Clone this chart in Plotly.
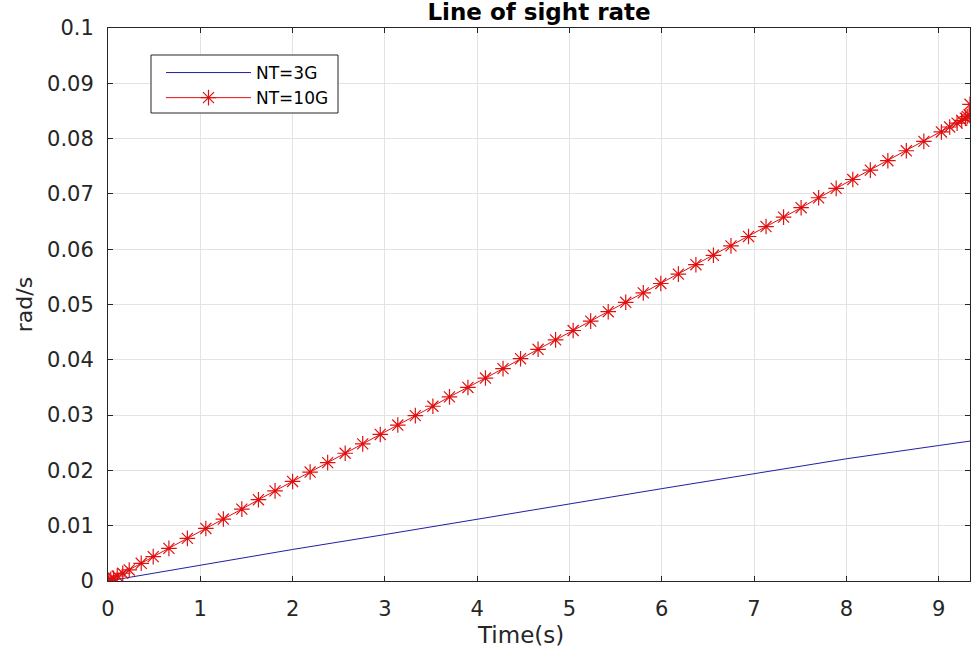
import plotly.graph_objects as go

# Time samples (s) and line-of-sight rate (rad/s)
t_3g = [0, 1, 2, 3, 4, 5, 6, 7, 8, 9, 9.34]
los_3g = [0, 0.0029, 0.0057, 0.0084, 0.0112, 0.0140, 0.0167, 0.0194, 0.0221, 0.0245, 0.0253]

t_10g = [0, 0.01, 0.03, 0.06, 0.10, 0.16, 0.23, 0.36, 0.49, 0.66, 0.86, 1.06, 1.25, 1.45,
         1.63, 1.81, 2.00, 2.19, 2.38, 2.57, 2.76, 2.95, 3.14, 3.33, 3.52, 3.70, 3.90, 4.09,
         4.28, 4.47, 4.66, 4.85, 5.04, 5.23, 5.42, 5.61, 5.80, 5.99, 6.18, 6.37, 6.56, 6.75,
         6.94, 7.13, 7.32, 7.51, 7.70, 7.89, 8.07, 8.26, 8.45, 8.65, 8.84, 9.03, 9.12, 9.20,
         9.25, 9.29, 9.31, 9.33, 9.34]
los_10g = [0, 0.0001, 0.0003, 0.0005, 0.0009, 0.0014, 0.0020, 0.0032, 0.0044, 0.0059, 0.0077,
           0.0095, 0.0112, 0.0130, 0.0147, 0.0163, 0.0180, 0.0197, 0.0214, 0.0231, 0.0248,
           0.0265, 0.0282, 0.0299, 0.0316, 0.0333, 0.0350, 0.0367, 0.0384, 0.0402, 0.0419,
           0.0436, 0.0453, 0.0470, 0.0487, 0.0504, 0.0521, 0.0538, 0.0555, 0.0572, 0.0589,
           0.0606, 0.0623, 0.0641, 0.0658, 0.0675, 0.0693, 0.0710, 0.0726, 0.0743, 0.0760,
           0.0778, 0.0795, 0.0812, 0.0821, 0.0828, 0.0833, 0.0837, 0.0840, 0.0843, 0.0862]

x_ticks = [0, 1, 2, 3, 4, 5, 6, 7, 8, 9]
y_ticks = [0, 0.01, 0.02, 0.03, 0.04, 0.05, 0.06, 0.07, 0.08, 0.09, 0.1]
y_tick_labels = ["0", "0.01", "0.02", "0.03", "0.04", "0.05", "0.06", "0.07", "0.08", "0.09", "0.1"]

FONT = "DejaVu Sans, Liberation Sans, Arial, sans-serif"
AXIS_COLOR = "#262626"
GRID_COLOR = "#e3e3e3"

fig = go.Figure()
fig.add_trace(go.Scatter(
    x=t_3g, y=los_3g, mode="lines", name="NT=3G",
    line=dict(color="#1f1fa0", width=1),
))
fig.add_trace(go.Scatter(
    x=t_10g, y=los_10g, mode="lines+markers", name="NT=10G",
    line=dict(color="#e01010", width=1),
    marker=dict(symbol="asterisk-open", size=13, color="#e01010",
                line=dict(color="#e01010", width=1.2)),
))

axis_common = dict(
    showline=True, linecolor=AXIS_COLOR, linewidth=1, mirror="ticks",
    ticks="inside", ticklen=5, tickcolor=AXIS_COLOR, tickwidth=1,
    showgrid=True, gridcolor=GRID_COLOR, gridwidth=1, zeroline=False,
    tickfont=dict(family=FONT, size=21, color=AXIS_COLOR),
)

fig.update_xaxes(**axis_common, range=[0, 9.34], tickvals=x_ticks, ticklabelstandoff=9)
fig.update_yaxes(
    **axis_common, range=[0, 0.1], tickvals=y_ticks, ticktext=y_tick_labels, ticklabelstandoff=9,
    title=dict(text="rad/s", font=dict(family=FONT, size=22, color=AXIS_COLOR), standoff=8),
)

# x-axis label
fig.add_annotation(
    text="Time(s)", xref="paper", yref="paper",
    x=(520 - 108) / 862, y=(581 - 635) / 553, xanchor="center", yanchor="middle",
    showarrow=False, font=dict(family=FONT, size=23, color=AXIS_COLOR),
)

# Legend frame, drawn as a paper-space box behind the legend entries
fig.add_shape(
    type="rect", xref="paper", yref="paper",
    x0=(151 - 108) / 862, x1=(338 - 108) / 862,
    y0=(581 - 113) / 553, y1=(581 - 55) / 553,
    line=dict(color=AXIS_COLOR, width=1), fillcolor="white", layer="above",
)

fig.update_layout(
    width=972, height=656,
    margin=dict(l=108, r=2, t=28, b=75),
    paper_bgcolor="white", plot_bgcolor="white",
    title=dict(text="<b>Line of sight rate</b>", x=539 / 972, xanchor="center",
               y=1 - 12 / 656, yanchor="middle", yref="container",
               font=dict(family=FONT, size=23, color="black")),
    legend=dict(
        x=(161 - 108) / 862, y=(581 - 55) / 553, xanchor="left", yanchor="top",
        bgcolor="rgba(0,0,0,0)", borderwidth=0,
        font=dict(family=FONT, size=17, color="black"),
        itemwidth=85, tracegroupgap=0,
    ),
    showlegend=True,
)

fig.write_html("out.html")
